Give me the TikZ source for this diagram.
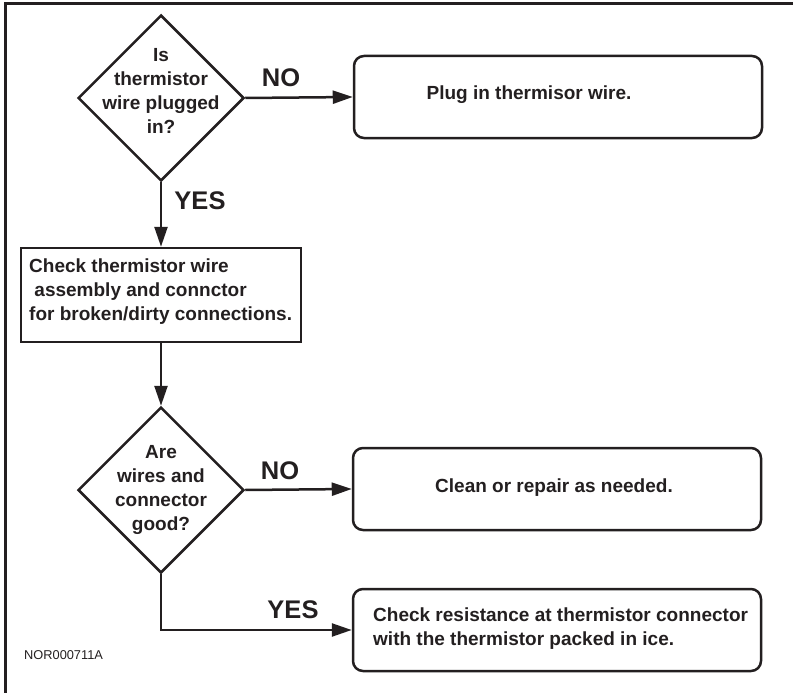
\documentclass[tikz,border=0pt]{standalone}
\usepackage{fontspec}
\setmainfont{Liberation Sans}
\usetikzlibrary{shapes.geometric,arrows.meta}
\definecolor{ink}{HTML}{231F20}
\begin{document}
\begin{tikzpicture}[x=1pt,y=-1pt,
  decision/.style={diamond, draw=ink, line width=2.5pt, minimum width=166pt, minimum height=166pt, inner sep=0pt},
  rbox/.style={draw=ink, line width=2.5pt, rounded corners=10pt, minimum width=408pt, minimum height=82pt, inner sep=0pt},
  sqbox/.style={draw=ink, line width=2.5pt, minimum width=280pt, minimum height=94pt, inner sep=0pt},
  txt/.style={font=\bfseries\fontsize{19}{24}\selectfont, text=ink, align=center, inner sep=0pt},
  lbl/.style={font=\bfseries\fontsize{25.5}{30}\selectfont, text=ink, inner sep=0pt},
  arr/.style={draw=ink, line width=2.5pt, -{Triangle[length=20pt,width=13pt]}}]
\useasboundingbox (0,0) rectangle (793,693);
\draw[ink, line width=3pt] (5,693) -- (5,4) -- (793,4);

\node[decision] (d1) at (161,98) {};
\node[txt] (d1t) at (161,91) {Is\\thermistor\\wire plugged\\in?};
\node[rbox] (b1) at (558,97) {};
\node[txt] (b1t) at (529,95) {Plug in thermisor wire.};
\node[sqbox] (b2) at (161,295) {};
\node[txt, align=left, anchor=west] (b2t) at (29,292) {Check thermistor wire\\\ assembly and connctor\\for broken/dirty connections.};
\node[decision] (d2) at (161,490) {};
\node[txt] (d2t) at (161,490) {Are\\wires and\\connector\\good?};
\node[rbox] (b3) at (557,489) {};
\node[txt] (b3t) at (554,488) {Clean or repair as needed.};
\node[rbox] (b4) at (557,630) {};
\node[txt, align=left, anchor=west] (b4t) at (373,628.5) {Check resistance at thermistor connector\\with the thermistor packed in ice.};

\draw[arr] (d1.east) -- (b1.west);
\draw[arr] (d1.south) -- (b2.north);
\draw[arr] (b2.south) -- (d2.north);
\draw[arr] (d2.east) -- (b3.west);
\draw[arr] (d2.south) |- (b4.west);

\node[lbl] (no1) at (281,78) {NO};
\node[lbl] (yes1) at (200,201) {YES};
\node[lbl] (no2) at (280,471) {NO};
\node[lbl] (yes2) at (293,610) {YES};
\node[font=\fontsize{12.8}{14}\selectfont, text=ink, anchor=west, inner sep=0pt] (ref) at (24,655) {NOR000711A};
\end{tikzpicture}
\end{document}
